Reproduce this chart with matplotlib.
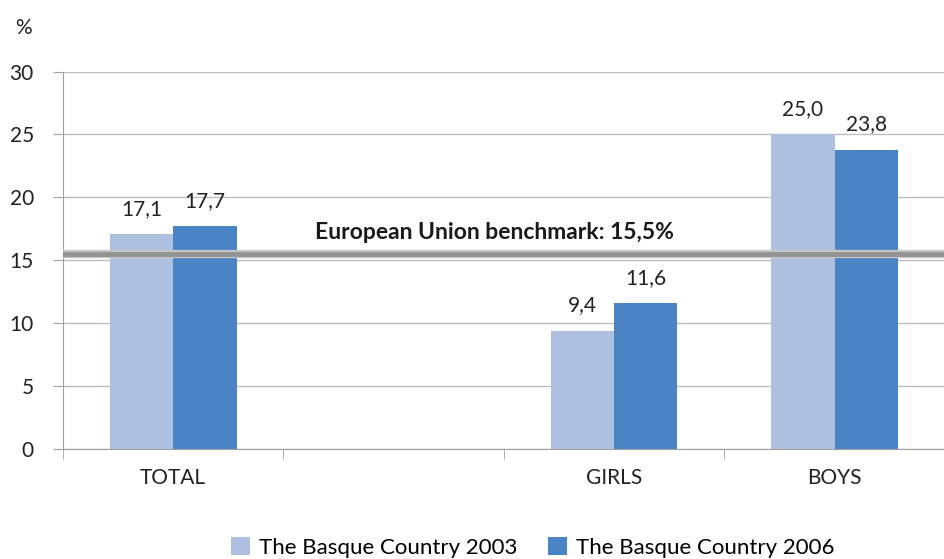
import matplotlib
matplotlib.use('Agg')
import matplotlib.pyplot as plt
import numpy as np

categories = ['TOTAL', '', 'GIRLS', 'BOYS']
values_2003 = [17.1, np.nan, 9.4, 25.0]
values_2006 = [17.7, np.nan, 11.6, 23.8]
labels_2003 = ['17,1', '', '9,4', '25,0']
labels_2006 = ['17,7', '', '11,6', '23,8']
benchmark = 15.5

plt.rcParams['font.family'] = ['Lato', 'DejaVu Sans']

fig = plt.figure(figsize=(9.45, 5.59), dpi=100)
ax = fig.add_axes([0.0667, 0.197, 0.933, 0.675])

x = np.arange(len(categories))
w = 0.287
ax.bar(x - w / 2, values_2003, w, color='#aec0e0', label='The Basque Country 2003', zorder=2)
ax.bar(x + w / 2, values_2006, w, color='#4a84c4', label='The Basque Country 2006', zorder=2)

for i in range(len(categories)):
    if labels_2003[i]:
        ax.text(x[i] - w / 2, values_2003[i] + 1.2, labels_2003[i], ha='center', va='bottom',
                fontsize=15, color='#222222')
        ax.text(x[i] + w / 2, values_2006[i] + 1.2, labels_2006[i], ha='center', va='bottom',
                fontsize=15, color='#222222')

# benchmark line (light edge + dark core)
ax.axhline(benchmark, color='#c4c4c4', linewidth=6, zorder=3)
ax.axhline(benchmark, color='#939393', linewidth=3.5, zorder=3)
ax.text(1.456, benchmark + 0.9, 'European Union benchmark: 15,5%', ha='center', va='bottom',
        fontsize=16.5, fontweight='bold', color='#1a1a1a')

ax.set_xlim(-0.5, 3.5)
ax.set_ylim(0, 30)
ax.set_yticks(range(0, 31, 5))
ax.yaxis.grid(True, color='#bdbdbd', linewidth=1, zorder=0)
ax.set_axisbelow(True)

ax.set_xticks(x)
ax.set_xticklabels(categories)
ax.set_xticks(np.arange(-0.5, 4.0, 1.0), minor=True)
ax.tick_params(axis='x', which='major', length=0, pad=14, labelsize=15, labelcolor='#222222')
ax.tick_params(axis='x', which='minor', length=7, color='#a0a0a0')
ax.tick_params(axis='y', length=7, color='#a0a0a0', labelsize=15, labelcolor='#222222', pad=14)

for s in ['top', 'right']:
    ax.spines[s].set_visible(False)
for s in ['left', 'bottom']:
    ax.spines[s].set_color('#a0a0a0')

ax.text(-0.045, 1.1, '%', transform=ax.transAxes, fontsize=15, color='#222222', ha='center')

fig.legend(loc='lower center', bbox_to_anchor=(0.564, -0.034), ncol=2, frameon=False,
           fontsize=16, handlelength=0.85, handleheight=0.85, columnspacing=1.4, handletextpad=0.4)

fig.savefig('out.png', dpi=100)
